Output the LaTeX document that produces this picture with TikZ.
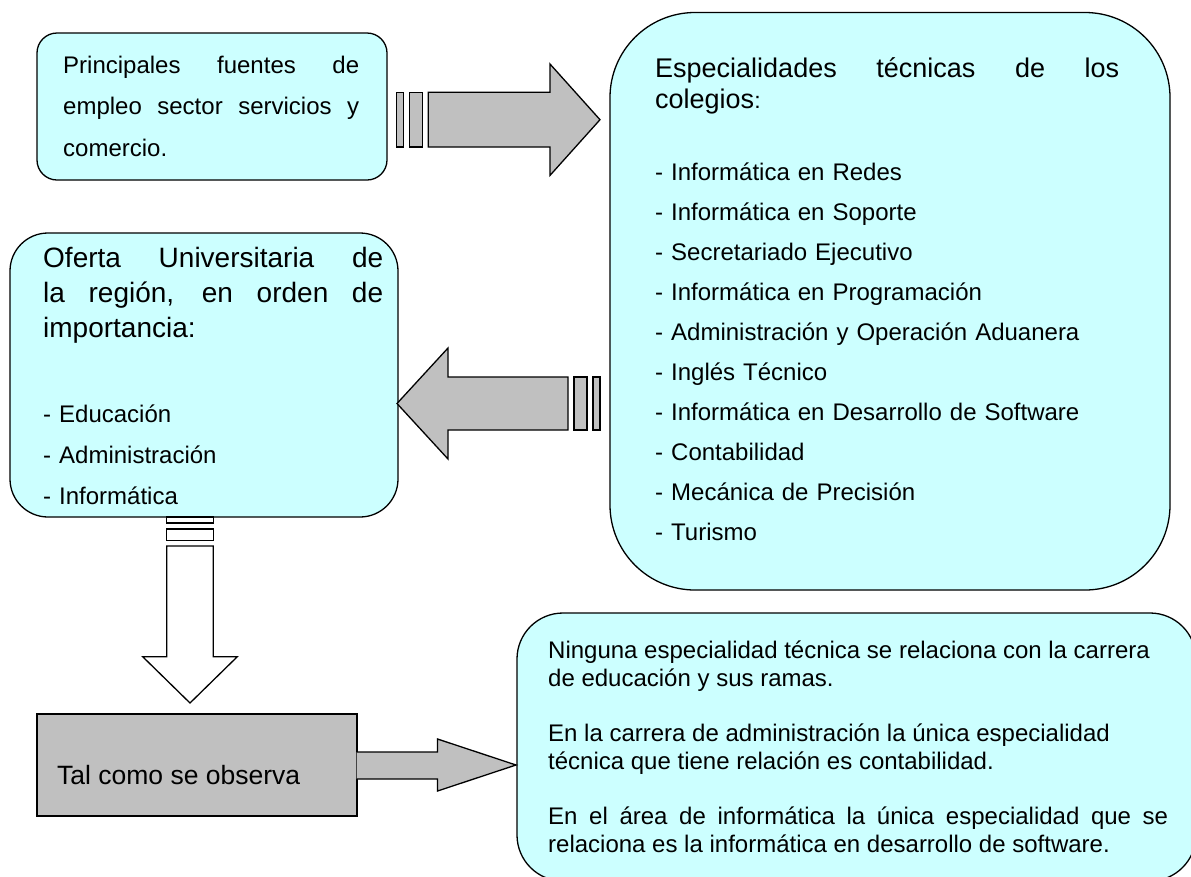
\documentclass[tikz,border=0pt]{standalone}
\usepackage{fontspec}
\setmainfont{Liberation Sans}
\definecolor{boxcyan}{HTML}{CCFFFF}
\definecolor{arrowgray}{HTML}{C0C0C0}
\hyphenpenalty=10000
\tolerance=9999
\hbadness=10000
\tikzset{
  cbox/.style={draw, line width=1.3pt, fill=boxcyan, rectangle},
  gbox/.style={draw, line width=1.3pt, fill=arrowgray, rectangle},
  barrow/.style={draw, line width=1.3pt, fill=arrowgray, line join=miter},
  warrow/.style={draw, line width=1.3pt, fill=white, line join=miter},
  txt/.style={inner sep=0pt, anchor=base west, align=justify}
}
\begin{document}
\begin{tikzpicture}[x=1pt, y=-1pt]
\useasboundingbox (0,0) rectangle (1191,876);
\clip (0,0) rectangle (1191,876);
% boxes
\node[cbox, rounded corners=20pt, minimum width=350pt, minimum height=147pt] (fuentes) at (212,106.5) {};
\node[cbox, rounded corners=85pt, minimum width=560pt, minimum height=577.5pt] (espec) at (890,301.25) {};
\node[cbox, rounded corners=38pt, minimum width=388pt, minimum height=284pt] (oferta) at (204,375) {};
\node[gbox, minimum width=320pt, minimum height=102pt] (observa) at (197,765) {};
\node[cbox, rounded corners=46pt, minimum width=679pt, minimum height=268pt] (concl) at (856.5,747) {};
% striped arrow to the right
\draw[barrow] (396.7,92.3) rectangle (403.3,147);
\draw[barrow] (409.3,92.3) rectangle (422.7,147);
\draw[barrow] (428.3,92.3) -- (550,92.3) -- (550,64) -- (600,119.7) -- (550,175.4) -- (550,147) -- (428.3,147) -- cycle;
% striped arrow to the left
\draw[barrow] (593,377) rectangle (600,430);
\draw[barrow] (574,377) rectangle (587,430);
\draw[barrow] (568,377) -- (448,377) -- (448,348) -- (397,403.5) -- (448,459) -- (448,430) -- (568,430) -- cycle;
% striped arrow down
\draw[warrow] (166.7,517) rectangle (213.3,523);
\draw[warrow] (166.7,529) rectangle (213.3,540.7);
\draw[warrow] (166.7,546) -- (166.7,656.7) -- (142.7,656.7) -- (190,703) -- (237.3,656.7) -- (213.3,656.7) -- (213.3,546) -- cycle;
% arrow out of the grey box
\filldraw[barrow] (356.5,752) -- (437.5,752) -- (437.5,739) -- (516,765) -- (437.5,791) -- (437.5,779) -- (356.5,779);
% texts
\node[txt, text width=296pt, font=\fontsize{24}{41.5}\selectfont] (fuentesT) at (63,73)
  {Principales fuentes de\linebreak empleo sector servicios y\linebreak comercio.};
\node[txt, text width=464pt, font=\fontsize{27}{31}\selectfont] (especT) at (655,77)
  {Especialidades técnicas de los\linebreak colegios{\fontsize{23}{31}\selectfont:}};
\node[txt, align=left, text width=500pt, font=\fontsize{24}{40.1}\selectfont] (especL) at (655,180)
  {- Informática en Redes\\
   - Informática en Soporte\\
   - Secretariado Ejecutivo\\
   - Informática en Programación\\
   - Administración y Operación Aduanera\\
   - Inglés Técnico\\
   - Informática en Desarrollo de Software\\
   - Contabilidad\\
   - Mecánica de Precisión\\
   - Turismo};
\node[txt, text width=340pt, font=\fontsize{28}{35}\selectfont] (ofertaT) at (43,267)
  {Oferta Universitaria de\linebreak la región, en orden de\linebreak importancia:};
\node[txt, align=left, text width=300pt, font=\fontsize{24}{41}\selectfont] (ofertaL) at (43,422)
  {- Educación\\
   - Administración\\
   - Informática};
\node[txt, align=left, font=\fontsize{26.5}{30}\selectfont] (observaT) at (57,784) {Tal como se observa};
\node[txt, text width=620pt, font=\fontsize{24}{28}\selectfont] (conclT) at (548,658)
  {Ninguna especialidad técnica se relaciona con la carrera\\
   de educación y sus ramas.\\[27pt]
   En la carrera de administración la única especialidad\\
   técnica que tiene relación es contabilidad.\\[27pt]
   En el área de informática la única especialidad que se\linebreak
   relaciona es la informática en desarrollo de software.};
\end{tikzpicture}
\end{document}
